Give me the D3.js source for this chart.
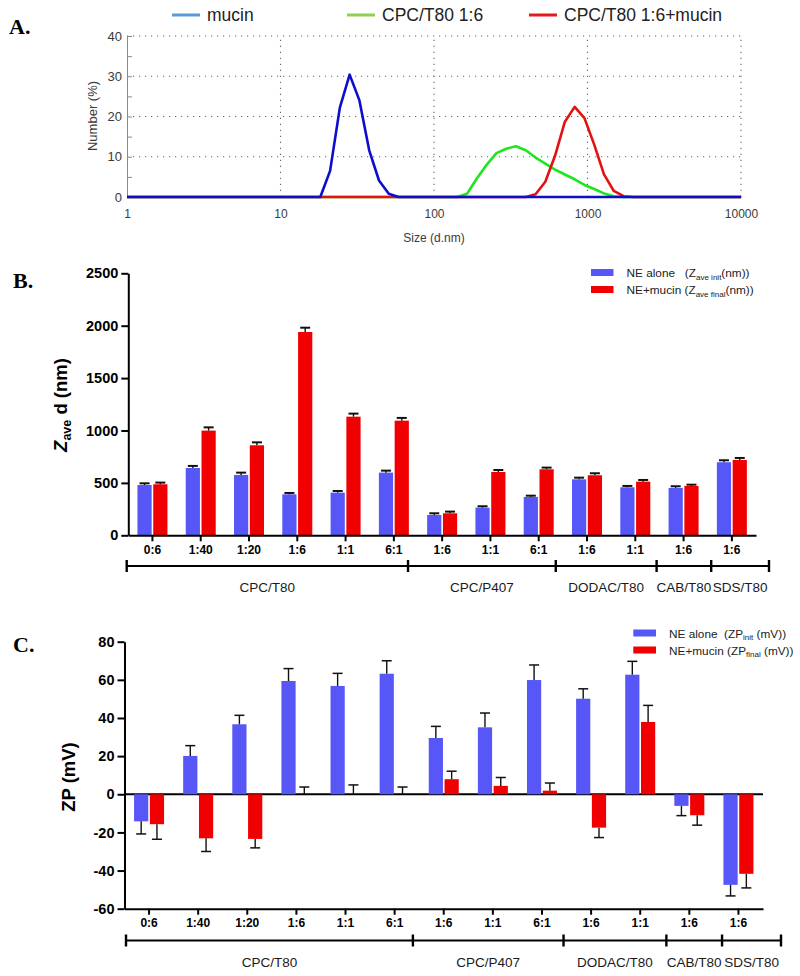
<!DOCTYPE html>
<html>
<head>
<meta charset="utf-8">
<script src="https://cdn.jsdelivr.net/npm/d3@7"></script>
<style>
  body { margin: 0; background: #fff; }
  text { white-space: pre; }
</style>
</head>
<body>
<svg id="chart" width="800" height="976"></svg>
<script>
// ---------- data ----------
// A. size distribution by number (DLS bins, nm -> %)
var mucinSize = [1, 18.17, 21.04, 24.36, 28.21, 32.67, 37.84, 43.82, 50.75, 58.77, 10000];
var mucinNum  = [0, 0, 6.5, 22.2, 30.4, 24.0, 11.6, 4.1, 0.8, 0, 0];
var neSize = [1, 141.8, 164.2, 190.1, 220.2, 255.0, 295.3, 342.0, 396.1, 458.7, 531.2, 615.1, 712.4, 825.0, 955.4, 1106, 1281, 1484, 1718, 10000];
var neNum  = [0, 0, 0.8, 4.6, 8.0, 10.9, 12.0, 12.6, 11.6, 9.8, 8.3, 6.8, 5.6, 4.4, 3.0, 2.0, 0.9, 0.2, 0, 0];
var neMucSize = [1, 396.1, 458.7, 531.2, 615.1, 712.4, 825.0, 955.4, 1106, 1281, 1484, 1718, 1990, 10000];
var neMucNum  = [0, 0, 0.7, 3.8, 10.3, 18.7, 22.4, 19.6, 13.0, 5.6, 1.5, 0.2, 0, 0];
var seriesA = ["mucin", "CPC/T80 1:6", "CPC/T80 1:6+mucin"];
var sizeTicks = [1, 10, 100, 1000, 10000];
var numberTicks = [0, 5, 10, 15, 20, 25, 30, 35, 40];

// B. / C. formulations
var ratios = ["0:6", "1:40", "1:20", "1:6", "1:1", "6:1", "1:6", "1:1", "6:1", "1:6", "1:1", "1:6", "1:6"];
var groups = ["CPC/T80", "CPC/P407", "DODAC/T80", "CAB/T80", "SDS/T80"];
var groupCounts = [6, 3, 2, 1, 1];

var zaveInit     = [480, 642, 576, 391, 407, 598, 194, 264, 366, 534, 458, 452, 697];
var zaveInitErr  = [16, 20, 22, 13, 16, 19, 16, 13, 12, 16, 13, 16, 19];
var zaveFinal    = [487, 999, 859, 1940, 1132, 1094, 210, 604, 630, 573, 512, 471, 719];
var zaveFinalErr = [16, 31, 28, 41, 29, 26, 16, 19, 16, 19, 16, 12, 19];
var zaveTicks = [0, 500, 1000, 1500, 2000, 2500];

var zpInit     = [-14.2, 20.1, 36.7, 59.4, 56.8, 63.2, 29.5, 35.1, 59.9, 50.1, 62.7, -6.1, -47.5];
var zpInitErr  = [6.6, 5.4, 4.7, 6.5, 6.6, 6.8, 6.1, 7.5, 7.9, 5.2, 7.0, 5.1, 5.8];
var zpFinal    = [-15.7, -23.1, -23.4, 0, 0, 0, 7.9, 4.4, 1.9, -17.5, 37.9, -11.0, -41.7];
var zpFinalErr = [7.9, 6.9, 4.7, 3.8, 4.9, 3.8, 4.2, 4.4, 4.0, 5.2, 8.7, 5.2, 7.4];
var zpTicks = [-60, -40, -20, 0, 20, 40, 60, 80];

// ---------- style / layout ----------
var sans = "'Liberation Sans', Arial, Helvetica, sans-serif";
var serif = "'Liberation Serif', 'Times New Roman', serif";
var curveColors = ["#0d0dcc", "#1ee61e", "#e31212"];
var legendColorsA = ["#5b9bd5", "#8fd14f", "#e31a1c"];
var barBlue = "#5757f7", barRed = "#f00000";
// relative positions of the group bracket separators along the bracket line
var bracketStops = [0, 0.438, 0.668, 0.825, 0.910, 1];
var plain = function(d){ return String(d); };

var svg = d3.select("#chart");

function panelLabel(txt, x, y) {
    svg.append("text").attr("x", x).attr("y", y)
        .attr("font-family", serif).attr("font-weight", "bold").attr("font-size", 22)
        .text(txt);
}
panelLabel("A.", 9, 34);
panelLabel("B.", 13, 288);
panelLabel("C.", 13, 652);

// ================= A =================
var xA = d3.scaleLog().domain([1, 10000]).range([127, 741]);
var yA = d3.scaleLinear().domain([0, 40]).range([197, 36]);
var gA = svg.append("g");

gA.selectAll(".hgrid").data(numberTicks.filter(function(d){ return d > 0 && d % 10 === 0; }))
    .enter().append("line")
    .attr("x1", xA(1)).attr("x2", xA(10000))
    .attr("y1", function(d){ return yA(d); }).attr("y2", function(d){ return yA(d); })
    .attr("stroke", "#666").attr("stroke-width", 1.1).attr("stroke-dasharray", "1.2,4.8");
gA.selectAll(".vgrid").data(sizeTicks.slice(1))
    .enter().append("line")
    .attr("y1", yA(0)).attr("y2", yA(40))
    .attr("x1", function(d){ return xA(d); }).attr("x2", function(d){ return xA(d); })
    .attr("stroke", "#666").attr("stroke-width", 1.1).attr("stroke-dasharray", "1.2,4.8");

var yAxisA = gA.append("g").attr("transform", "translate(" + xA(1) + ",0)")
    .call(d3.axisLeft(yA).tickValues(numberTicks).tickSizeInner(-5).tickSizeOuter(0).tickPadding(5)
        .tickFormat(function(d){ return d % 10 === 0 ? d : ""; }));
yAxisA.selectAll("path, line").attr("stroke", "#8a8a8a");
yAxisA.selectAll("text").attr("font-family", sans).attr("font-size", 13).attr("fill", "#3a3a3a");

var xAxisA = gA.append("g").attr("transform", "translate(0," + yA(0) + ")")
    .call(d3.axisBottom(xA).tickValues(sizeTicks).tickSize(0).tickPadding(12).tickFormat(plain));
xAxisA.select("path").attr("stroke", "#8a8a8a");
xAxisA.selectAll("text").attr("font-family", sans).attr("font-size", 12).attr("fill", "#3a3a3a");

gA.append("text").attr("x", 434).attr("y", 242).attr("text-anchor", "middle")
    .attr("font-family", sans).attr("font-size", 12).attr("fill", "#3a3a3a").text("Size (d.nm)");
gA.append("text").attr("transform", "translate(97,116) rotate(-90)").attr("text-anchor", "middle")
    .attr("font-family", sans).attr("font-size", 13).attr("fill", "#3a3a3a").text("Number (%)");

var curves = [
    d3.zip(neSize, neNum),
    d3.zip(neMucSize, neMucNum),
    d3.zip(mucinSize, mucinNum)
];
var curveColorOrder = [curveColors[1], curveColors[2], curveColors[0]];
var lineA = d3.line().x(function(d){ return xA(d[0]); }).y(function(d){ return yA(d[1]); });
gA.selectAll(".curve").data(curves).enter().append("path")
    .attr("d", lineA).attr("fill", "none")
    .attr("stroke", function(d, i){ return curveColorOrder[i]; })
    .attr("stroke-width", 2.6).attr("stroke-linejoin", "round");

var legendAX = [172, 347, 529];
var legA = gA.selectAll(".legA").data(seriesA).enter().append("g")
    .attr("transform", function(d, i){ return "translate(" + legendAX[i] + ",15)"; });
legA.append("line").attr("x1", 0).attr("x2", 28).attr("y1", 0).attr("y2", 0)
    .attr("stroke", function(d, i){ return legendColorsA[i]; }).attr("stroke-width", 3);
legA.append("text").attr("x", 35).attr("y", 6)
    .attr("font-family", "'Liberation Sans Narrow', 'Arial Narrow', " + sans)
    .attr("font-size", 17.5).attr("fill", "#222").text(function(d){ return d; });

// ================= shared bar helpers =================
function barPanel(opt) {
    var g = svg.append("g");
    var idx = d3.range(ratios.length);
    var x = d3.scaleBand().domain(idx).range(opt.xRange);
    var y = d3.scaleLinear().domain(opt.yDomain).range(opt.yRange);
    var sub = d3.scaleBand().domain([0, 1]).range([-15, 15]).paddingInner(0.1);
    var series = [
        { v: opt.init, e: opt.initErr, c: barBlue },
        { v: opt.fin, e: opt.finErr, c: barRed }
    ];

    // zero line (for panels with negatives)
    if (opt.yDomain[0] < 0) {
        g.append("line").attr("x1", opt.xRange[0]).attr("x2", opt.xRange[1])
            .attr("y1", y(0)).attr("y2", y(0)).attr("stroke", "#000").attr("stroke-width", 2);
    }

    series.forEach(function(s, si) {
        var cx = function(i){ return x(i) + x.bandwidth() / 2 + sub(si) + sub.bandwidth() / 2; };
        g.selectAll(".bar" + si).data(idx).enter().append("rect")
            .attr("x", function(i){ return x(i) + x.bandwidth() / 2 + sub(si); })
            .attr("width", sub.bandwidth())
            .attr("y", function(i){ return y(Math.max(0, s.v[i])); })
            .attr("height", function(i){ return Math.abs(y(s.v[i]) - y(0)); })
            .attr("fill", s.c);
        var end = function(i){ return s.v[i] + (s.v[i] < 0 ? -1 : 1) * s.e[i]; };
        g.selectAll(".err" + si).data(idx).enter().append("line")
            .attr("x1", cx).attr("x2", cx)
            .attr("y1", function(i){ return y(s.v[i]); }).attr("y2", function(i){ return y(end(i)); })
            .attr("stroke", "#111").attr("stroke-width", 1.4);
        g.selectAll(".cap" + si).data(idx).enter().append("line")
            .attr("x1", function(i){ return cx(i) - 5; }).attr("x2", function(i){ return cx(i) + 5; })
            .attr("y1", function(i){ return y(end(i)); }).attr("y2", function(i){ return y(end(i)); })
            .attr("stroke", "#111").attr("stroke-width", opt.capWidth);
    });

    var yAxis = g.append("g").attr("transform", "translate(" + opt.xRange[0] + ",0)")
        .call(d3.axisLeft(y).tickValues(opt.ticks).tickSize(7).tickSizeOuter(0).tickPadding(3)
            .tickFormat(plain));
    var xAxis = g.append("g").attr("transform", "translate(0," + y(opt.yDomain[0]) + ")")
        .call(d3.axisBottom(x).tickSize(6).tickSizeOuter(0).tickPadding(4)
            .tickFormat(function(i){ return ratios[i]; }));
    [yAxis, xAxis].forEach(function(a) {
        a.selectAll("path, line").attr("stroke", "#000").attr("stroke-width", 2);
        a.selectAll("text").attr("font-family", sans).attr("font-weight", "bold").attr("fill", "#000");
    });
    yAxis.selectAll("text").attr("font-size", 14.5);
    xAxis.selectAll("text").attr("font-size", 12);

    // group bracket
    var cum = [0];
    groupCounts.forEach(function(c){ cum.push(cum[cum.length - 1] + c); });
    var bx = d3.scaleLinear().domain(bracketStops).range(bracketStops.map(function(f){
        return opt.bracket[0] + f * (opt.bracket[1] - opt.bracket[0]);
    }));
    var bpos = function(k){ return bx(bracketStops[k]); };
    g.append("line").attr("x1", bpos(0)).attr("x2", bpos(cum.length - 1))
        .attr("y1", opt.bracketY).attr("y2", opt.bracketY).attr("stroke", "#000").attr("stroke-width", 2);
    g.selectAll(".btick").data(cum).enter().append("line")
        .attr("x1", function(d, k){ return bpos(k); }).attr("x2", function(d, k){ return bpos(k); })
        .attr("y1", opt.bracketY - 6).attr("y2", opt.bracketY + 6)
        .attr("stroke", "#000").attr("stroke-width", 2.4);
    g.selectAll(".glabel").data(groups).enter().append("text")
        .attr("x", function(d, k){ return (bpos(k) + bpos(k + 1)) / 2; })
        .attr("y", opt.bracketY + 26).attr("text-anchor", "middle")
        .attr("font-family", sans).attr("font-size", 13.5).attr("fill", "#1a1a1a")
        .text(function(d){ return d; });

    // legend
    var leg = g.append("g").attr("transform", "translate(" + opt.legend[0] + "," + opt.legend[1] + ")");
    opt.legendText.forEach(function(parts, li) {
        var row = leg.append("g").attr("transform", "translate(0," + li * 17 + ")");
        row.append("rect").attr("x", 0).attr("y", -3.5).attr("width", opt.swatchW).attr("height", 7)
            .attr("fill", li === 0 ? barBlue : barRed);
        var t = row.append("text").attr("x", opt.swatchW + 13).attr("y", 4.5)
            .attr("font-family", sans).attr("font-size", 11.8).attr("fill", "#222");
        t.append("tspan").text(parts[0]);
        t.append("tspan").attr("font-size", 8).attr("dy", 2.5).text(parts[1]);
        t.append("tspan").attr("dy", -2.5).text(parts[2]);
    });
    return { g: g, y: y };
}

// ================= B =================
var B = barPanel({
    xRange: [128.3, 756], yDomain: [0, 2500], yRange: [535.3, 273.3], ticks: zaveTicks,
    init: zaveInit, initErr: zaveInitErr, fin: zaveFinal, finErr: zaveFinalErr, capWidth: 2,
    bracket: [126.7, 769], bracketY: 566,
    legend: [591, 272.5], swatchW: 22.5,
    legendText: [["NE alone   (Z", "ave init", "(nm))"], ["NE+mucin (Z", "ave final", "(nm))"]]
});
var bl = B.g.append("text").attr("transform", "translate(67,405) rotate(-90)").attr("text-anchor", "middle")
    .attr("font-family", sans).attr("font-weight", "bold").attr("font-size", 18.5);
bl.append("tspan").attr("font-style", "italic").text("Z");
bl.append("tspan").attr("font-size", 12.5).attr("dy", 4).text("ave");
bl.append("tspan").attr("dy", -4).text(" d (nm)");

// ================= C =================
var C = barPanel({
    xRange: [124.5, 763], yDomain: [-60, 80], yRange: [908.7, 641.7], ticks: zpTicks,
    init: zpInit, initErr: zpInitErr, fin: zpFinal, finErr: zpFinalErr, capWidth: 1.5,
    bracket: [126, 781], bracketY: 940.5,
    legend: [633.3, 633], swatchW: 22.7,
    legendText: [["NE alone  (ZP", "init", " (mV))"], ["NE+mucin (ZP", "final", " (mV))"]]
});
C.g.append("text").attr("transform", "translate(75,777) rotate(-90)").attr("text-anchor", "middle")
    .attr("font-family", sans).attr("font-weight", "bold").attr("font-size", 18.5).text("ZP (mV)");
</script>
</body>
</html>
